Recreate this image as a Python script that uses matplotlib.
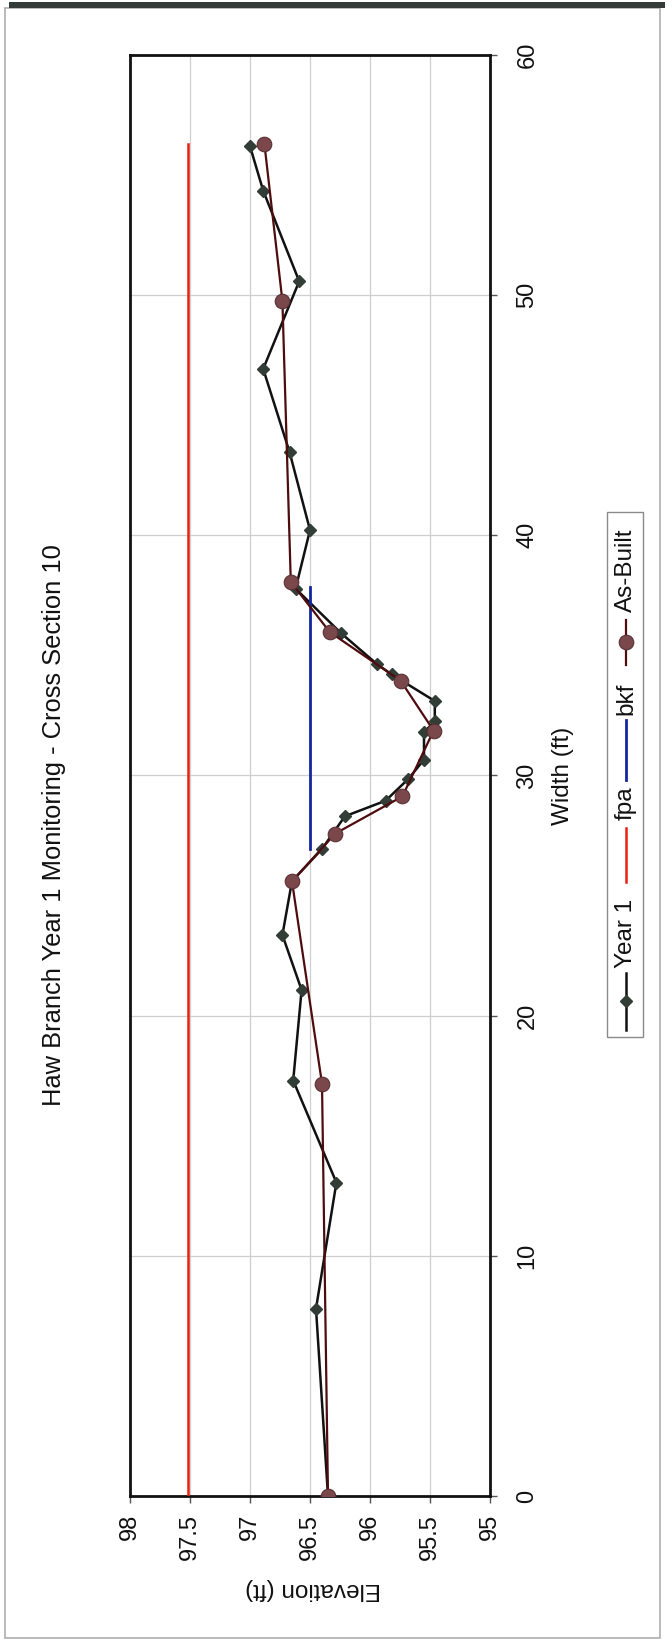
import matplotlib
matplotlib.use("Agg")
import matplotlib.pyplot as plt
from matplotlib.lines import Line2D
from matplotlib.patches import Rectangle

plt.rcParams['font.family'] = ['Liberation Sans', 'DejaVu Sans']

# ---- chart text ----
TITLE = "Haw Branch Year 1 Monitoring - Cross Section 10"
WIDTH_LABEL = "Width (ft)"
ELEV_LABEL = "Elevation (ft)"
series_names = ["Year 1", "fpa", "bkf", "As-Built"]

# ---- survey data (station along section in ft, elevation in ft) ----
year1_station = [0.0, 7.8, 13.05, 17.3, 21.07, 23.36, 25.6, 26.94, 28.3, 28.95,
                 29.86, 30.66, 31.8, 32.26, 33.1, 34.21, 34.63, 35.92, 37.78,
                 40.22, 43.46, 46.93, 50.58, 54.35, 56.2]
year1_elev = [96.35, 96.45, 96.28, 96.64, 96.57, 96.73, 96.65, 96.40, 96.21, 95.87,
              95.68, 95.55, 95.55, 95.46, 95.46, 95.82, 95.94, 96.24, 96.62,
              96.50, 96.67, 96.89, 96.59, 96.89, 97.00]

asbuilt_station = [0.0, 17.17, 25.59, 27.58, 29.13, 31.87, 33.95, 35.97, 38.06, 49.76, 56.3]
asbuilt_elev = [96.35, 96.40, 96.65, 96.29, 95.73, 95.47, 95.745, 96.335, 96.66, 96.73, 96.88]

fpa_station = [0.0, 56.3]
fpa_elev = [97.52, 97.52]

bkf_station = [26.94, 37.86]
bkf_elev = [96.5, 96.5]

elev_ticks = [98, 97.5, 97, 96.5, 96, 95.5, 95]
elev_tick_labels = ["98", "97.5", "97", "96.5", "96", "95.5", "95"]
width_ticks = [0, 10, 20, 30, 40, 50, 60]
width_tick_labels = ["0", "10", "20", "30", "40", "50", "60"]

# ---- colours ----
C_YEAR1_LINE = "#111111"
C_YEAR1_MARK = "#333d38"
C_FPA = "#e8200e"
C_BKF = "#1226a0"
C_AB_LINE = "#4e0c0e"
C_AB_MARK = "#7a474b"
C_AB_EDGE = "#5a3034"

W, H = 665, 1642
fig = plt.figure(figsize=(W / 100, H / 100), dpi=100)
fig.patch.set_facecolor("white")


def fx(px):
    return px / W


def fy(py):
    return 1 - py / H


# page frame and dark top strip of the sheet
fig.add_artist(Rectangle((fx(5), fy(1638)), fx(660) - fx(5), fy(8) - fy(1638),
                         transform=fig.transFigure, fill=False,
                         edgecolor="#b4b4b4", lw=1.3))
fig.add_artist(Rectangle((fx(9), fy(8)), fx(665) - fx(9), fy(2) - fy(8),
                         transform=fig.transFigure, facecolor="#353b38",
                         edgecolor="none"))

# plot area: elevation runs horizontally (reversed), station runs upward
ax = fig.add_axes([fx(130), fy(1496), fx(490) - fx(130), fy(55) - fy(1496)])
ax.set_xlim(98, 95)
ax.set_ylim(0, 60)

ax.plot(year1_elev, year1_station, color=C_YEAR1_LINE, lw=1.8, marker="D",
        ms=6.5, mfc=C_YEAR1_MARK, mec=C_YEAR1_MARK, zorder=3)
ax.plot(fpa_elev, fpa_station, color=C_FPA, lw=1.8, zorder=3)
ax.plot(bkf_elev, bkf_station, color=C_BKF, lw=2.0, zorder=3)
ax.plot(asbuilt_elev, asbuilt_station, color=C_AB_LINE, lw=1.6, marker="o",
        ms=10.5, mfc=C_AB_MARK, mec=C_AB_EDGE, mew=0.8, zorder=4)

ax.set_xticks(elev_ticks)
ax.set_xticklabels(elev_tick_labels)
ax.set_yticks(width_ticks)
ax.set_yticklabels(width_tick_labels)
ax.yaxis.tick_right()
ax.grid(True, color="#cfcfcf", lw=0.9, zorder=0)
ax.set_axisbelow(True)

for s in ax.spines.values():
    s.set_linewidth(2.0)
    s.set_color("#111111")

ax.tick_params(axis="x", direction="out", length=5, width=1.0, color="#555555",
               labelsize=17, labelrotation=90, pad=8, labelcolor="#111111")
ax.tick_params(axis="y", direction="out", length=5, width=1.0, color="#555555",
               labelsize=17, labelrotation=90, pad=14, labelcolor="#111111")
for lab in ax.get_yticklabels():
    lab.set_va("center")
    lab.set_ha("left")

# titles and axis captions
fig.text(fx(54), fy(825), TITLE, rotation=90, ha="center", va="center",
         fontsize=18.4, color="#111111")
fig.text(fx(563), fy(776), WIDTH_LABEL, rotation=90, ha="center", va="center",
         fontsize=17.5, color="#111111")
fig.text(fx(313), fy(1589), ELEV_LABEL, rotation=180, ha="center", va="center",
         fontsize=17.5, color="#111111")

# legend (entries stacked upward along the page)
fig.add_artist(Rectangle((fx(607), fy(1037)), fx(643) - fx(607), fy(512) - fy(1037),
                         transform=fig.transFigure, facecolor="white",
                         edgecolor="#8a8a8a", lw=1.0))
lx = 626
legend_items = [
    # name, line start, line end, text centre, style
    (series_names[0], 973, 1030, 933, dict(color=C_YEAR1_LINE, lw=1.8, marker="D", ms=6.5,
                                           mfc=C_YEAR1_MARK, mec=C_YEAR1_MARK, markevery=[1])),
    (series_names[1], 828, 882, 803, dict(color=C_FPA, lw=1.8)),
    (series_names[2], 720, 780, 699, dict(color=C_BKF, lw=2.0)),
    (series_names[3], 620, 665, 570, dict(color=C_AB_LINE, lw=1.6, marker="o", ms=10.5,
                                          mfc=C_AB_MARK, mec=C_AB_EDGE, mew=0.8,
                                          markevery=[1])),
]
for name, y0, y1, ty, style in legend_items:
    ym = (y0 + y1) / 2
    fig.add_artist(Line2D([fx(lx), fx(lx), fx(lx)], [fy(y1), fy(ym), fy(y0)],
                          transform=fig.transFigure, **style))
    fig.text(fx(lx), fy(ty), name, rotation=90, ha="center", va="center",
             fontsize=17.5, color="#111111")

fig.savefig("out.png", dpi=100, facecolor="white")
